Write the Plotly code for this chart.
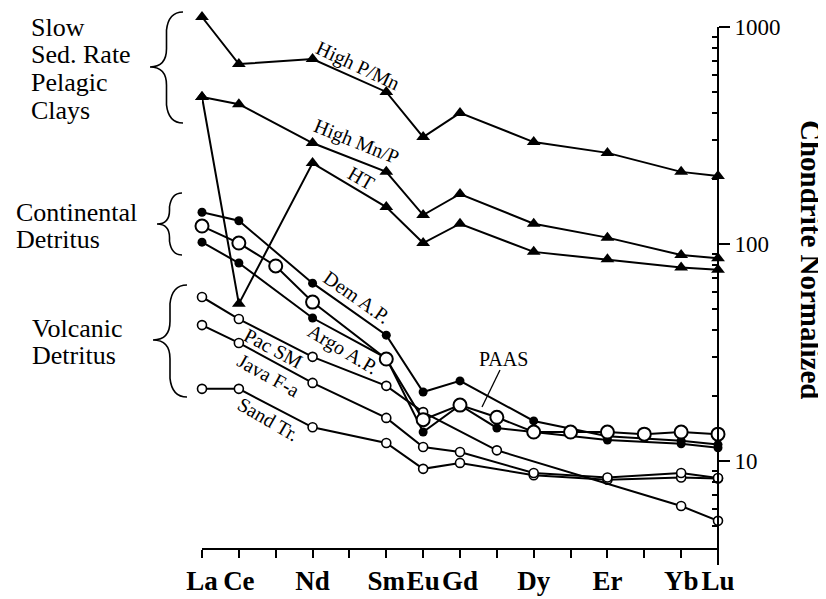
import plotly.graph_objects as go

# ---------------- data ----------------
ree = ["La", "Ce", "Pr", "Nd", "Pm", "Sm", "Eu", "Gd", "Tb", "Dy", "Ho", "Er", "Tm", "Yb", "Lu"]
ree_labels = ["La", "Ce", "", "Nd", "", "Sm", "Eu", "Gd", "", "Dy", "", "Er", "", "Yb", "Lu"]

pel_el = ["La", "Ce", "Nd", "Sm", "Eu", "Gd", "Dy", "Er", "Yb", "Lu"]
high_p_mn = [1112, 675, 712, 502, 311, 402, 295, 263, 215, 206]
high_mn_p = [476, 441, 292, 215, 136, 170, 124, 107, 89, 86]
ht = [476, 53, 236, 148, 101, 124, 92, 85, 78, 76]

dem_el = ["La", "Ce", "Nd", "Sm", "Eu", "Gd", "Dy", "Er", "Yb", "Lu"]
dem_ap = [140, 128, 66, 38, 20.8, 23.4, 15.3, 13.0, 12.4, 11.9]

argo_el = ["La", "Ce", "Nd", "Sm", "Eu", "Gd", "Tb", "Er", "Yb", "Lu"]
argo_ap = [102, 81.7, 45.6, 29.8, 13.6, 18.1, 14.2, 12.5, 12.0, 11.5]

paas_el = ["La", "Ce", "Pr", "Nd", "Sm", "Eu", "Gd", "Tb", "Dy", "Ho", "Er", "Tm", "Yb", "Lu"]
paas = [121, 101, 79.2, 54.0, 29.5, 15.5, 18.1, 15.9, 13.6, 13.6, 13.6, 13.3, 13.6, 13.3]

pac_el = ["La", "Ce", "Nd", "Sm", "Eu", "Tb", "Yb", "Lu"]
pac_sm = [57.0, 45.1, 30.2, 22.2, 16.8, 11.2, 6.2, 5.3]

java_el = ["La", "Ce", "Nd", "Sm", "Eu", "Gd", "Dy", "Er", "Yb", "Lu"]
java_fa = [42.3, 35.0, 22.9, 15.8, 11.6, 11.0, 8.8, 8.4, 8.8, 8.35]

sand_el = ["La", "Ce", "Nd", "Sm", "Eu", "Gd", "Dy", "Er", "Yb", "Lu"]
sand_tr = [21.5, 21.5, 14.3, 12.1, 9.2, 9.8, 8.6, 8.2, 8.4, 8.3]

y_ticks = [10, 100, 1000]
y_minor = [5, 6, 7, 8, 9, 20, 30, 40, 50, 60, 70, 80, 90, 200, 300, 400, 500, 600, 700, 800, 900]

# ---------------- layout geometry (page pixels) ----------------
OFF = 8                      # default page margin of the html body
PAGE_W, PAGE_H = 826, 599
W, H = PAGE_W - OFF, PAGE_H - OFF
X0, X1 = 202, 718            # plot area in page pixels
Y0, Y1 = 8, 548
L, R = X0 - OFF, PAGE_W - X1
T, B = Y0 - OFF, PAGE_H - Y1
PW, PH = X1 - X0, Y1 - Y0

def px(xp):
    return (xp - X0) / PW

def py(yp):
    return (Y1 - yp) / PH

SERIF = "Liberation Serif"

fig = go.Figure()

def add(el, vals, marker):
    fig.add_trace(go.Scatter(
        x=el, y=vals, mode="lines+markers",
        line=dict(color="black", width=2),
        marker=marker, cliponaxis=False,
        showlegend=False, hoverinfo="skip"))

tri = dict(symbol="triangle-up", size=12, color="black")
dot = dict(symbol="circle", size=9, color="black")
small_open = dict(symbol="circle", size=9, color="white", line=dict(color="black", width=1.6))
big_open = dict(symbol="circle", size=13, color="white", line=dict(color="black", width=2))

add(pel_el, high_p_mn, tri)
add(pel_el, high_mn_p, tri)
add(pel_el, ht, tri)
add(sand_el, sand_tr, small_open)
add(java_el, java_fa, small_open)
add(pac_el, pac_sm, small_open)
add(argo_el, argo_ap, dot)
add(dem_el, dem_ap, dot)
add(paas_el, paas, big_open)

fig.update_xaxes(
    type="category", categoryorder="array", categoryarray=ree,
    range=[0, 14], tickvals=ree, ticktext=ree_labels, tickangle=0,
    showline=True, linecolor="black", linewidth=2,
    ticks="outside", ticklen=8, tickwidth=1.5, tickcolor="black",
    tickfont=dict(family=SERIF, size=27, color="black", weight="bold"),
    showgrid=False, zeroline=False, fixedrange=True,
)
fig.update_yaxes(
    type="log", range=[0.5991, 3.0876], side="right",
    tickvals=y_ticks, ticktext=[str(v) for v in y_ticks],
    showline=False, ticks="outside", ticklen=11, tickwidth=1.5, tickcolor="black",
    tickfont=dict(family=SERIF, size=23, color="black"),
    minor=dict(tickvals=y_minor, ticks="inside", ticklen=6, tickwidth=1.5, tickcolor="black", showgrid=False),
    showgrid=False, zeroline=False,
)

shapes = []
# right y axis line (from 1000 down below the x axis)
shapes.append(dict(type="line", xref="paper", yref="paper", x0=1, x1=1,
                   y0=py(27), y1=py(565), line=dict(color="black", width=2)))
# PAAS leader
shapes.append(dict(type="line", xref="paper", yref="paper", x0=px(500), y0=py(370),
                   x1=px(482), y1=py(407), line=dict(color="black", width=1.3)))

def brace(xl, xr, yt, yb, yc):
    xm = (xl + xr) / 2
    r = (xr - xl) * 0.55
    pts = [
        ("M", [(xr, yt)]),
        ("Q", [(xm + 2, yt), (xm, yt + r)]),
        ("L", [(xm, yc - r)]),
        ("Q", [(xm, yc), (xl, yc)]),
        ("Q", [(xm, yc), (xm, yc + r)]),
        ("L", [(xm, yb - r)]),
        ("Q", [(xm + 2, yb), (xr, yb)]),
    ]
    s = ""
    for cmd, ps in pts:
        s += cmd + " ".join(f"{px(a):.5f},{py(b):.5f}" for a, b in ps) + " "
    return dict(type="path", xref="paper", yref="paper", path=s.strip(),
                line=dict(color="black", width=1.6))

shapes.append(brace(150, 183, 12, 123, 67))
shapes.append(brace(157, 182, 193, 255, 224))
shapes.append(brace(153, 187, 285, 397, 340))

ann = []
def text(t, xp, yp, size=20, angle=0, xanchor="center", bold=False):
    ann.append(dict(text=t, xref="paper", yref="paper", x=px(xp), y=py(yp),
                    xanchor=xanchor, yanchor="middle", showarrow=False, textangle=angle,
                    font=dict(family=SERIF, size=size, color="black",
                              weight="bold" if bold else "normal")))

# group labels at left
for t, yy in [("Slow", 27), ("Sed. Rate", 55), ("Pelagic", 82), ("Clays", 110)]:
    text(t, 29, yy, size=26, xanchor="left")
text("Continental", 14, 212, size=26, xanchor="left")
text("Detritus", 14, 240, size=26, xanchor="left")
text("Volcanic", 30, 328, size=26, xanchor="left")
text("Detritus", 30, 356, size=26, xanchor="left")

# series labels
text("High P/Mn", 357, 66, angle=25)
text("High Mn/P", 356, 141, angle=22)
text("HT", 361, 178, angle=30)
text("Dem A.P.", 357, 297, angle=35)
text("Argo A.P.", 343, 349, angle=31)
text("Pac SM", 273, 348, angle=28)
text("Java F-a", 268, 375, angle=29)
text("Sand Tr.", 268, 419, angle=30)
text("PAAS", 503, 359)

# y axis title
text("Chondrite Normalized", 811, 260, size=29, angle=90, bold=True)

fig.update_layout(
    width=W, height=H,
    margin=dict(l=L, r=R, t=T, b=B, pad=0),
    paper_bgcolor="white", plot_bgcolor="white",
    shapes=shapes, annotations=ann,
    font=dict(family=SERIF, color="black"),
)

fig.write_html("out.html")
